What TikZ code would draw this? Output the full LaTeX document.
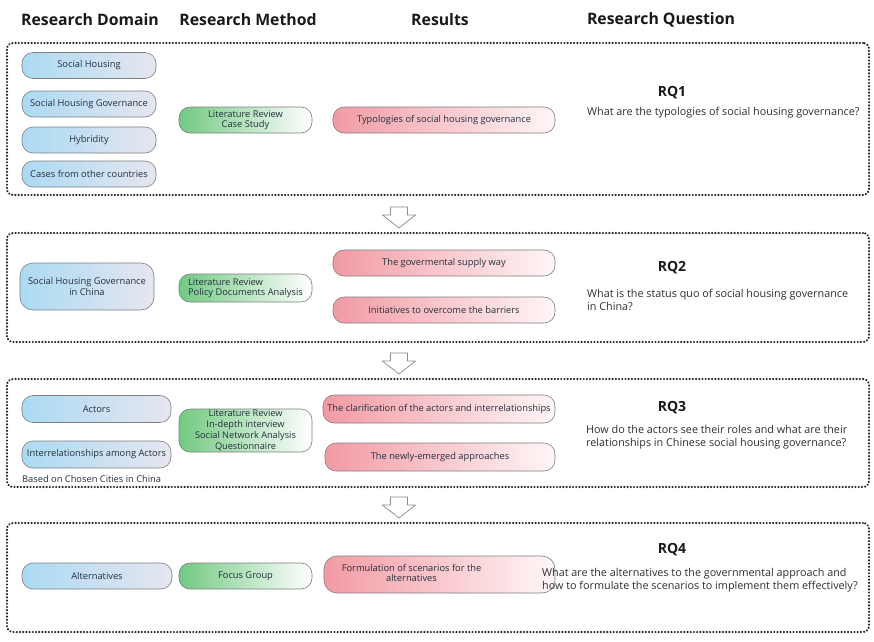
\documentclass[tikz,border=0pt]{standalone}
\usepackage{fontspec}
\setmainfont{Open Sans}
\definecolor{textc}{HTML}{22303C}
\definecolor{qc}{HTML}{2E2E2E}
\definecolor{domL}{HTML}{ABDAF3}
\definecolor{domR}{HTML}{E6E6F0}
\definecolor{metL}{HTML}{72C982}
\definecolor{resL}{HTML}{F29AA4}
\definecolor{resR}{HTML}{FFF6F7}
\definecolor{bordc}{HTML}{7E7E7E}
\tikzset{
  box/.style={draw=bordc, rounded corners=11pt, line width=0.6pt, align=center,
    text=textc, font=\fontsize{9.3}{11}\selectfont, inner sep=1pt},
  dom/.style={box, left color=domL, right color=domR},
  met/.style={box, left color=metL, right color=white},
  res/.style={box, left color=resL, right color=resR},
  panel/.style={draw=black!85, line width=2.4pt, line cap=round,
    dash pattern=on 0.01pt off 3.2pt, rounded corners=6pt, inner sep=0pt},
  hdr/.style={font=\fontsize{15.8}{18}\selectfont\bfseries, text=black!90},
  rq/.style={font=\fontsize{14}{16}\selectfont\bfseries, text=black!90},
  qtext/.style={font=\fontsize{10.8}{13.5}\selectfont, text=qc, align=left, anchor=west, inner sep=0pt},
  harrow/.style={draw=black!45, fill=white, line width=0.7pt, line join=miter}
}
\begin{document}
\begin{tikzpicture}[x=1pt,y=-1pt]
\useasboundingbox (0,0) rectangle (874,641);
% headers
\node[hdr] (h1) at (90,20) {Research Domain};
\node[hdr] (h2) at (248,20) {Research Method};
\node[hdr] (h3) at (440,20) {Results};
\node[hdr] (h4) at (661,20) {Research Question};
% panels
\node[panel, minimum width=862pt, minimum height=152pt] (p1) at (438,119) {};
\node[panel, minimum width=862pt, minimum height=109pt] (p2) at (438,287.5) {};
\node[panel, minimum width=862pt, minimum height=108pt] (p3) at (438,433) {};
\node[panel, minimum width=862pt, minimum height=109pt] (p4) at (438,577.5) {};
% panel 1
\node[dom, minimum width=134pt, minimum height=26pt] (d11) at (89,65.5) {Social Housing};
\node[dom, minimum width=134pt, minimum height=26pt] (d12) at (89,104) {Social Housing Governance};
\node[dom, minimum width=134pt, minimum height=26pt] (d13) at (89,140) {Hybridity};
\node[dom, minimum width=134pt, minimum height=26pt] (d14) at (89,174) {Cases from other countries};
\node[met, minimum width=133pt, minimum height=26pt, font=\fontsize{9.3}{10}\selectfont] (m1) at (245.5,120) {Literature Review\\Case Study};
\node[res, minimum width=222pt, minimum height=26pt] (r1) at (444,120) {Typologies of social housing governance};
\node[rq] (rq1) at (672,93) {RQ1};
\node[qtext] (q1) at (587,113) {What are the typologies of social housing governance?};
% panel 2
\node[dom, minimum width=134pt, minimum height=47pt, rounded corners=13pt] (d21) at (87,286.5) {Social Housing Governance\\in China};
\node[met, minimum width=133pt, minimum height=28pt, align=left, font=\fontsize{9.3}{10.5}\selectfont] (m2) at (245.5,288) {Literature Review\\Policy Documents Analysis};
\node[res, minimum width=222pt, minimum height=26pt] (r21) at (444,263) {The govermental supply way};
\node[res, minimum width=222pt, minimum height=26pt] (r22) at (444,310) {Initiatives to overcome the barriers};
\node[rq] (rq2) at (672,268) {RQ2};
\node[qtext] (q2) at (587,300) {What is the status quo of social housing governance\\in China?};
% panel 3
\node[dom, minimum width=149pt, minimum height=27pt] (d31) at (96.5,409) {Actors};
\node[dom, minimum width=149pt, minimum height=27pt] (d32) at (96.5,454.5) {Interrelationships among Actors};
\node[font=\fontsize{9.3}{11}\selectfont, text=textc, anchor=west, inner sep=0pt] (note) at (22,479) {Based on Chosen Cities in China};
\node[met, minimum width=133pt, minimum height=43pt, font=\fontsize{9.2}{10.8}\selectfont] (m3) at (245.5,430.5) {Literature Review\\In-depth interview\\Social Network Analysis\\Questionnaire};
\node[res, minimum width=232pt, minimum height=28pt] (r31) at (439,409) {The clarification of the actors and interrelationships};
\node[res, minimum width=230pt, minimum height=28pt] (r32) at (440,457) {The newly-emerged approaches};
\node[rq] (rq3) at (672,408) {RQ3};
\node[qtext] (q3) at (586,437) {How do the actors see their roles and what are their\\relationships in Chinese social housing governance?};
% panel 4
\node[dom, minimum width=150pt, minimum height=26pt] (d41) at (97,576) {Alternatives};
\node[met, minimum width=133pt, minimum height=26pt] (m4) at (245.5,576) {Focus Group};
\node[res, minimum width=231pt, minimum height=37pt, rounded corners=13pt] (r4) at (439.5,574.5) {\hspace*{-56pt}\begin{tabular}{@{}c@{}}Formulation of scenarios for the\\[-1.5pt]alternatives\end{tabular}};
\node[rq] (rq4) at (672,550) {RQ4};
\node[qtext] (q4) at (542,580) {What are the alternatives to the governmental approach and\\how to formulate the scenarios to implement them effectively?};
% hollow arrows between panels
\foreach \t/\b in {207/228, 353/374, 497/518}{
  \draw[harrow] (390.5,\t) -- (407.5,\t) -- (407.5,\t+8) -- (415.5,\t+8) -- (399,\b)
     -- (382.5,\t+8) -- (390.5,\t+8) -- cycle;
}
\end{tikzpicture}
\end{document}
